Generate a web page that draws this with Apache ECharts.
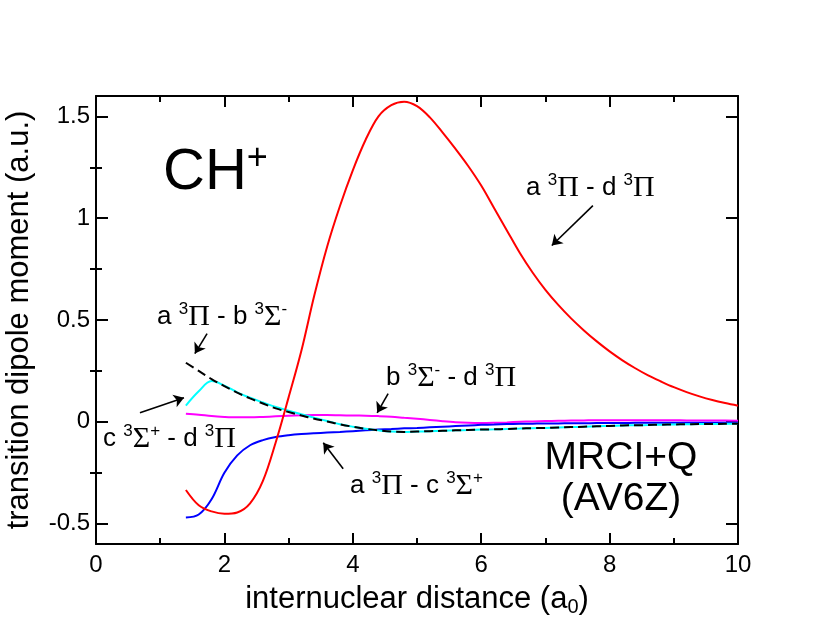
<!DOCTYPE html>
<html>
<head>
<meta charset="utf-8">
<title>CH+ transition dipole moments</title>
<script src="https://cdn.jsdelivr.net/npm/echarts@6/dist/echarts.min.js"></script>
<style>
  html, body { margin: 0; padding: 0; background: #fff; }
  #chart { width: 830px; height: 642px; }
</style>
</head>
<body>
<div id="chart"></div>
<script>
// internuclear distance (a0), shared by all curves: 1.4 ... 10.0 in steps of 0.2
const distance = [1.4, 1.6, 1.8, 2.0, 2.2, 2.4, 2.6, 2.8, 3.0, 3.2, 3.4, 3.6, 3.8, 4.0,
  4.2, 4.4, 4.6, 4.8, 5.0, 5.2, 5.4, 5.6, 5.8, 6.0, 6.2, 6.4, 6.6, 6.8, 7.0, 7.2, 7.4, 7.6,
  7.8, 8.0, 8.2, 8.4, 8.6, 8.8, 9.0, 9.2, 9.4, 9.6, 9.8, 10.0];

// a3Pi - d3Pi (red)
const aPi_dPi = [-0.335, -0.41, -0.44, -0.452, -0.445, -0.40, -0.29, -0.10, 0.12, 0.35, 0.62, 0.86, 1.06, 1.235,
  1.385, 1.50, 1.555, 1.572, 1.55, 1.495, 1.42, 1.34, 1.255, 1.16, 1.05, 0.94, 0.83, 0.733, 0.648, 0.574, 0.508, 0.449,
  0.395, 0.346, 0.302, 0.263, 0.228, 0.198, 0.17, 0.146, 0.125, 0.107, 0.092, 0.079];

// a3Pi - c3Sigma+ (blue)
const aPi_cSig = [-0.47, -0.455, -0.38, -0.25, -0.165, -0.115, -0.09, -0.075, -0.066, -0.06, -0.056, -0.053, -0.05, -0.046,
  -0.042, -0.038, -0.035, -0.032, -0.03, -0.027, -0.024, -0.021, -0.018, -0.015, -0.013, -0.011, -0.01, -0.009, -0.008, -0.008, -0.007, -0.007,
  -0.006, -0.006, -0.006, -0.005, -0.005, -0.005, -0.005, -0.005, -0.004, -0.004, -0.004, -0.004];

// b3Sigma- - d3Pi (magenta)
const bSig_dPi = [0.04, 0.035, 0.028, 0.024, 0.022, 0.022, 0.024, 0.027, 0.03, 0.032, 0.033, 0.033, 0.032, 0.031,
  0.03, 0.028, 0.025, 0.02, 0.015, 0.009, 0.003, -0.002, -0.005, -0.006, -0.005, -0.003, 0.0, 0.002, 0.004, 0.005, 0.006, 0.007,
  0.008, 0.008, 0.008, 0.008, 0.008, 0.008, 0.008, 0.007, 0.007, 0.006, 0.006, 0.005];

// c3Sigma+ - d3Pi (cyan)
const cSig_dPi = [0.08, 0.15, 0.2, 0.178, 0.145, 0.118, 0.095, 0.073, 0.055, 0.037, 0.02, 0.004, -0.012, -0.024,
  -0.034, -0.042, -0.048, -0.05, -0.048, -0.046, -0.044, -0.042, -0.04, -0.038, -0.037, -0.035, -0.033, -0.031, -0.03, -0.028, -0.026, -0.024,
  -0.022, -0.02, -0.018, -0.017, -0.016, -0.014, -0.013, -0.012, -0.011, -0.011, -0.01, -0.01];

// a3Pi - b3Sigma- (black dashed)
const aPi_bSig = [0.29, 0.25, 0.21, 0.175, 0.143, 0.115, 0.09, 0.066, 0.048, 0.031, 0.015, 0.002, -0.012, -0.024,
  -0.034, -0.042, -0.048, -0.05, -0.048, -0.046, -0.044, -0.042, -0.04, -0.038, -0.037, -0.035, -0.033, -0.031, -0.03, -0.028, -0.026, -0.024,
  -0.022, -0.02, -0.018, -0.017, -0.016, -0.014, -0.013, -0.012, -0.011, -0.011, -0.01, -0.01];

// axis ticks
const xTicks = [0, 2, 4, 6, 8, 10];
const yMajor = [-0.5, 0, 0.5, 1, 1.5];
const yMinor = [-0.25, 0.25, 0.75, 1.25];

// annotation arrows (tail -> head) in data units
const arrowTail = [[7.74, 1.062], [1.73, 0.433], [4.55, 0.138], [0.685, 0.044], [3.85, -0.231]];
const arrowHead = [[7.10, 0.866], [1.54, 0.335], [4.38, 0.044], [1.37, 0.118], [3.54, -0.103]];

function pairs(ys) {
  return distance.map((x, i) => [x, ys[i]]);
}

const FONT = 'Liberation Sans, Arial, sans-serif';
const SERIF = 'Liberation Serif, Times New Roman, serif';

// rich text styles for state labels (superscript multiplicity, serif Greek)
const stateRich = {
  n: { fontSize: 26, fontFamily: FONT, color: '#000', lineHeight: 32 },
  s: { fontSize: 17, fontFamily: FONT, color: '#000', lineHeight: 14, verticalAlign: 'top' },
  g: { fontSize: 30, fontFamily: SERIF, color: '#000', lineHeight: 32 }
};

function stateLabel(text, x, y) {
  return {
    type: 'text', x: x, y: y, silent: true,
    style: { text: text, rich: stateRich, align: 'left', verticalAlign: 'top', fill: '#000' }
  };
}

const chart = echarts.init(document.getElementById('chart'));

const axisBase = {
  type: 'value',
  axisLine: { show: true, onZero: false, lineStyle: { color: '#000', width: 2 } },
  splitLine: { show: false }
};

const option = {
  animation: false,
  backgroundColor: '#fff',
  textStyle: { fontFamily: FONT },
  grid: { left: 96, right: 92, top: 96, bottom: 98, containLabel: false, outerBoundsMode: 'none' },
  xAxis: [
    Object.assign({}, axisBase, {
      position: 'bottom', min: 0, max: 10, interval: 2,
      axisTick: { inside: true, length: 11, lineStyle: { color: '#000', width: 2 } },
      minorTick: { show: true, splitNumber: 2, length: 6, lineStyle: { color: '#000', width: 2 } },
      axisLabel: { fontSize: 24, color: '#000', margin: 9, fontFamily: FONT,
        customValues: xTicks },
      name: 'internuclear distance (a{sub|0})',
      nameLocation: 'middle', nameGap: 32,
      nameTextStyle: { fontSize: 31, color: '#000', fontFamily: FONT, lineHeight: 36,
        rich: { sub: { fontSize: 20, fontFamily: FONT, color: '#000', lineHeight: 16, verticalAlign: 'bottom' } } }
    }),
    Object.assign({}, axisBase, {
      position: 'top', min: 0, max: 10, interval: 2,
      axisTick: { inside: true, length: 11, lineStyle: { color: '#000', width: 2 } },
      minorTick: { show: true, splitNumber: 2, length: 6, lineStyle: { color: '#000', width: 2 } },
      axisLabel: { show: false }
    })
  ],
  yAxis: [
    Object.assign({}, axisBase, {
      position: 'left', min: -0.6, max: 1.6,
      axisTick: { inside: true, length: 12, customValues: yMajor, lineStyle: { color: '#000', width: 2 } },
      axisLabel: { fontSize: 24, color: '#000', margin: 6, fontFamily: FONT, customValues: yMajor },
      name: 'transition dipole moment (a.u.)',
      nameLocation: 'middle', nameGap: 54,
      nameTextStyle: { fontSize: 31, color: '#000', fontFamily: FONT, lineHeight: 36 }
    }),
    Object.assign({}, axisBase, {
      position: 'left', min: -0.6, max: 1.6,
      axisLine: { show: false },
      axisTick: { inside: true, length: 6, customValues: yMinor, lineStyle: { color: '#000', width: 2 } },
      axisLabel: { show: false }
    }),
    Object.assign({}, axisBase, {
      position: 'right', min: -0.6, max: 1.6,
      axisTick: { inside: true, length: 12, customValues: yMajor, lineStyle: { color: '#000', width: 2 } },
      axisLabel: { show: false }
    }),
    Object.assign({}, axisBase, {
      position: 'right', min: -0.6, max: 1.6,
      axisLine: { show: false },
      axisTick: { inside: true, length: 6, customValues: yMinor, lineStyle: { color: '#000', width: 2 } },
      axisLabel: { show: false }
    })
  ],
  series: [
    {
      name: 'b3Sigma- - d3Pi', type: 'line', data: pairs(bSig_dPi), smooth: 0.35,
      showSymbol: false, lineStyle: { color: '#ff00ff', width: 2 }
    },
    {
      name: 'a3Pi - c3Sigma+', type: 'line', data: pairs(aPi_cSig), smooth: 0.35,
      showSymbol: false, lineStyle: { color: '#0000ff', width: 2 }
    },
    {
      name: 'c3Sigma+ - d3Pi', type: 'line', data: pairs(cSig_dPi), smooth: 0.35,
      showSymbol: false, lineStyle: { color: '#00ffff', width: 2 }
    },
    {
      name: 'a3Pi - b3Sigma-', type: 'line', data: pairs(aPi_bSig), smooth: 0.35,
      showSymbol: false, lineStyle: { color: '#000', width: 2, type: [9, 5] }
    },
    {
      name: 'a3Pi - d3Pi', type: 'line', data: pairs(aPi_dPi), smooth: 0.35,
      showSymbol: false, lineStyle: { color: '#ff0000', width: 2 },
      // arrows pointing from the state labels to their curves
      markLine: {
        silent: true, symbol: ['none', 'arrow'], symbolSize: 10,
        label: { show: false },
        lineStyle: { color: '#000', width: 1.6, type: 'solid' },
        data: arrowTail.map((t, i) => [{ coord: t }, { coord: arrowHead[i] }])
      }
    }
  ],
  graphic: [
    {
      type: 'text', x: 163, y: 141, silent: true,
      style: {
        text: '{c|CH}{p|+}', verticalAlign: 'top',
        rich: {
          c: { fontSize: 58, fontFamily: FONT, color: '#000', lineHeight: 64 },
          p: { fontSize: 36, fontFamily: FONT, color: '#000', lineHeight: 20, verticalAlign: 'top' }
        }
      }
    },
    {
      type: 'text', x: 621, y: 479, silent: true,
      style: {
        text: 'MRCI+Q\n(AV6Z)', font: '39px ' + FONT, fill: '#000',
        align: 'center', verticalAlign: 'middle', lineHeight: 41
      }
    },
    stateLabel('{n|a }{s|3}{g|Π}{n| - d }{s|3}{g|Π}', 526, 172),
    stateLabel('{n|a }{s|3}{g|Π}{n| - b }{s|3}{g|Σ}{s|-}', 157, 301),
    stateLabel('{n|b }{s|3}{g|Σ}{s|-}{n| - d }{s|3}{g|Π}', 386, 362),
    stateLabel('{n|c }{s|3}{g|Σ}{s|+}{n| - d }{s|3}{g|Π}', 103, 423),
    stateLabel('{n|a }{s|3}{g|Π}{n| - c }{s|3}{g|Σ}{s|+}', 350, 470)
  ]
};

chart.setOption(option);
</script>
</body>
</html>
